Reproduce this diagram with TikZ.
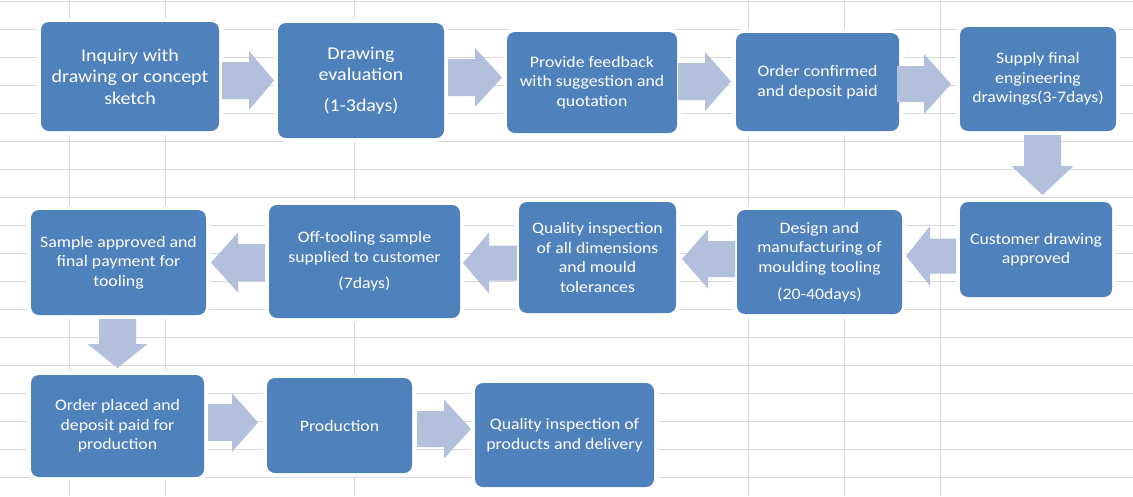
\documentclass[tikz,border=0pt]{standalone}
\usepackage{fontspec}
\setmainfont[FakeStretch=1.11]{Carlito}
\definecolor{boxblue}{RGB}{79,129,189}
\definecolor{arrfill}{RGB}{178,192,219}
\definecolor{gridgray}{RGB}{216,216,216}
\newcommand\harr[6]{%
  \fill[arr] (#1,#4-#5) -- (#2,#4-#5) -- (#2,#4-#6) -- (#3,#4) -- (#2,#4+#6) -- (#2,#4+#5) -- (#1,#4+#5) -- cycle;}
\newcommand\varr[6]{%
  \fill[arr] (#1-#5,#2) -- (#1-#5,#3) -- (#1-#6,#3) -- (#1,#4) -- (#1+#6,#3) -- (#1+#5,#3) -- (#1+#5,#2) -- cycle;}
\begin{document}
\begin{tikzpicture}[x=1pt,y=-1pt,
  gridline/.style={draw=gridgray,line width=1pt},
  arr/.style={fill=arrfill},
  box/.style={rectangle,rounded corners=8pt,fill=boxblue,text=white,align=center,inner sep=0pt,
    preaction={draw=white,line width=8pt}},
  big/.style={font=\fontsize{18}{21.5}\selectfont},
  small/.style={font=\fontsize{16}{19.5}\selectfont}]
\useasboundingbox (0,0) rectangle (1133,496);
\fill[white] (0,0) rectangle (1133,496);
% spreadsheet grid
\foreach \k in {0,...,17} {\draw[gridline] (0,1+28*\k) -- (1133,1+28*\k);}
\foreach \x in {69,165,354,748,844,940} {\draw[gridline] (\x,0) -- (\x,496);}
% boxes
\node[box,big,minimum width=178pt,minimum height=109pt] (b1) at (130,76.5) {Inquiry with\\drawing or concept\\sketch};
\node[box,big,minimum width=166pt,minimum height=115pt] (b2) at (361,80.5) {Drawing\\evaluation\\[9pt](1-3days)};
\node[box,small,minimum width=170pt,minimum height=101pt] (b3) at (592,82.5) {Provide feedback\\with suggestion and\\quotation};
\node[box,small,minimum width=163pt,minimum height=98pt] (b4) at (817.5,82) {Order confirmed\\and deposit paid};
\node[box,small,minimum width=156pt,minimum height=104pt] (b5) at (1038,79) {Supply final\\engineering\\drawings(3-7days)};
\node[box,small,minimum width=152pt,minimum height=95pt] (b6) at (1036,249.5) {Customer drawing\\approved};
\node[box,small,minimum width=165pt,minimum height=104pt] (b7) at (819.5,262) {Design and\\manufacturing of\\moulding tooling\\[8pt](20-40days)};
\node[box,small,minimum width=157pt,minimum height=111pt] (b8) at (597.5,257.5) {Quality inspection\\of all dimensions\\and mould\\tolerances};
\node[box,small,minimum width=191pt,minimum height=113pt] (b9) at (364.5,261.5) {Off-tooling sample\\supplied to customer\\[7pt](7days)};
\node[box,small,minimum width=175pt,minimum height=105pt] (b10) at (118.5,262.5) {Sample approved and\\final payment for\\tooling};
\node[box,small,minimum width=173pt,minimum height=102pt] (b11) at (117.5,426) {Order placed and\\deposit paid for\\production};
\node[box,small,minimum width=145pt,minimum height=95pt] (b12) at (339.5,425.5) {Production};
\node[box,small,minimum width=179pt,minimum height=104pt] (b13) at (564.5,435) {Quality inspection of\\products and delivery};
% block arrows
\harr{222}{249}{274}{80.5}{18.5}{29.5}
\harr{448}{475}{502}{77.5}{18.5}{29.5}
\harr{678}{705}{731}{81.5}{18.5}{29.5}
\harr{897}{924}{951}{84}{18}{30}
\varr{1042.5}{135}{166}{195}{18.5}{31}
\harr{956}{930}{906}{256}{17.5}{30}
\harr{735}{708}{682}{259}{18}{29.5}
\harr{517}{489}{463}{263}{17.5}{30.5}
\harr{265}{238}{211}{262.5}{18.5}{30}
\varr{117.5}{319}{344}{368}{18.5}{30}
\harr{208}{232}{258}{422.5}{18.5}{29.5}
\harr{417}{444}{471}{429}{18}{29.5}
\end{tikzpicture}
\end{document}
